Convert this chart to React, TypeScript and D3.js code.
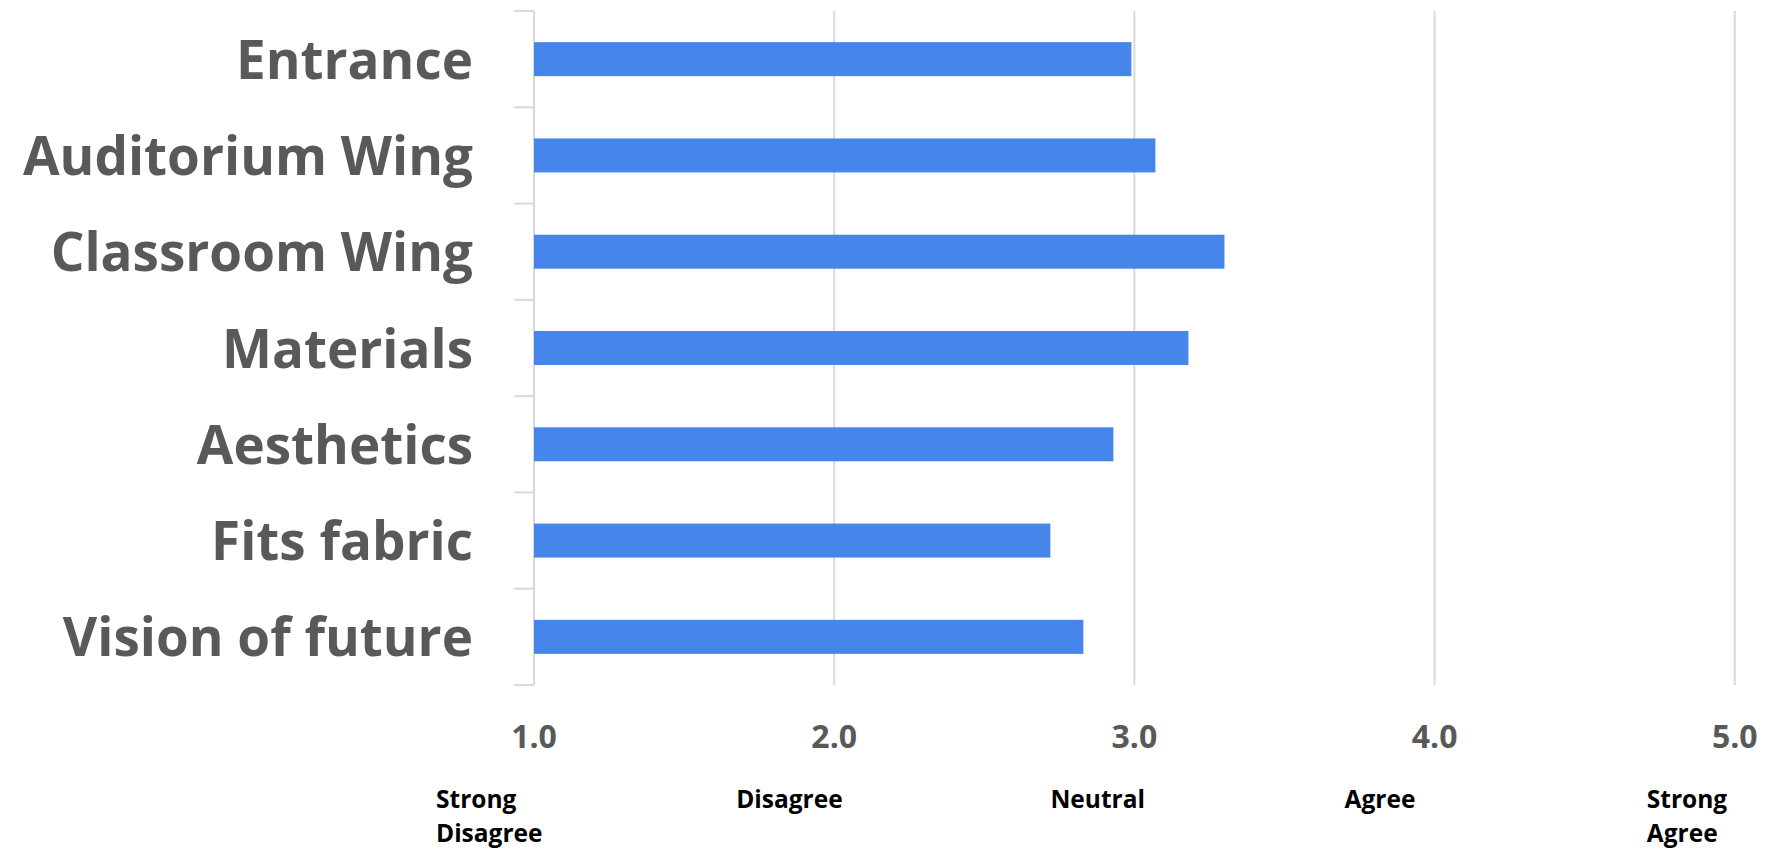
import React from "react";
import * as d3 from "d3";

const categories = [
  "Entrance",
  "Auditorium Wing",
  "Classroom Wing",
  "Materials",
  "Aesthetics",
  "Fits fabric",
  "Vision of future",
];
const values = [2.99, 3.07, 3.3, 3.18, 2.93, 2.72, 2.83];
const tickValues = [1, 2, 3, 4, 5];
const scaleLabels = [
  ["Strong", "Disagree"],
  ["Disagree"],
  ["Neutral"],
  ["Agree"],
  ["Strong", "Agree"],
];
// horizontal offsets of the scale label text blocks relative to their tick
const scaleLabelOffsets = [-98, -98, -84, -90, -88];

const W = 1768;
const H = 849;
const FONT = "'Open Sans', 'DejaVu Sans', sans-serif";

export default function App() {
  const x = d3.scaleLinear().domain([1, 5]).range([534, 1734.8]);
  const y = d3
    .scaleBand<string>()
    .domain(categories)
    .range([11, 685])
    .paddingInner(0.647)
    .paddingOuter(0.3235);
  const band = d3.scaleBand<string>().domain(categories).range([11, 685]);
  const grid = "#d9d9d9";
  const axisX = x(1);

  return (
    <svg
      width={W}
      height={H}
      style={{ position: "absolute", left: 0, top: 0, background: "#fff" }}
    >
      {/* gridlines */}
      {tickValues.slice(1).map((t) => (
        <line
          key={"g" + t}
          x1={x(t)}
          x2={x(t)}
          y1={11}
          y2={685}
          stroke={grid}
          strokeWidth={2}
        />
      ))}
      {/* category axis line and ticks */}
      <line x1={axisX} x2={axisX} y1={11} y2={685} stroke={grid} strokeWidth={2} />
      {categories.map((c) => (
        <line
          key={"t" + c}
          x1={axisX - 20}
          x2={axisX}
          y1={band(c)!}
          y2={band(c)!}
          stroke={grid}
          strokeWidth={2}
        />
      ))}
      <line x1={axisX - 20} x2={axisX} y1={685} y2={685} stroke={grid} strokeWidth={2} />
      {/* bars */}
      {categories.map((c, i) => (
        <rect
          key={"b" + c}
          x={x(1)}
          y={y(c)!}
          width={x(values[i]) - x(1)}
          height={y.bandwidth()}
          fill="#4685E9"
        />
      ))}
      {/* category labels */}
      {categories.map((c) => (
        <text
          key={"l" + c}
          x={473}
          y={band(c)! + band.bandwidth() / 2 + 19.5}
          textAnchor="end"
          fontFamily={FONT}
          fontWeight={700}
          fontSize={53}
          fill="#595959"
        >
          {c}
        </text>
      ))}
      {/* value tick labels */}
      {tickValues.map((t) => (
        <text
          key={"v" + t}
          x={x(t)}
          y={748}
          textAnchor="middle"
          fontFamily={FONT}
          fontWeight={700}
          fontSize={32}
          fill="#595959"
        >
          {d3.format(".1f")(t)}
        </text>
      ))}
      {/* scale labels */}
      {tickValues.map((t, i) => (
        <text
          key={"s" + t}
          x={x(t) + scaleLabelOffsets[i]}
          y={808}
          fontFamily={FONT}
          fontWeight={700}
          fontSize={24.5}
          fill="#000"
        >
          {scaleLabels[i].map((ln, j) => (
            <tspan key={j} x={x(t) + scaleLabelOffsets[i]} dy={j === 0 ? 0 : 34}>
              {ln}
            </tspan>
          ))}
        </text>
      ))}
    </svg>
  );
}
